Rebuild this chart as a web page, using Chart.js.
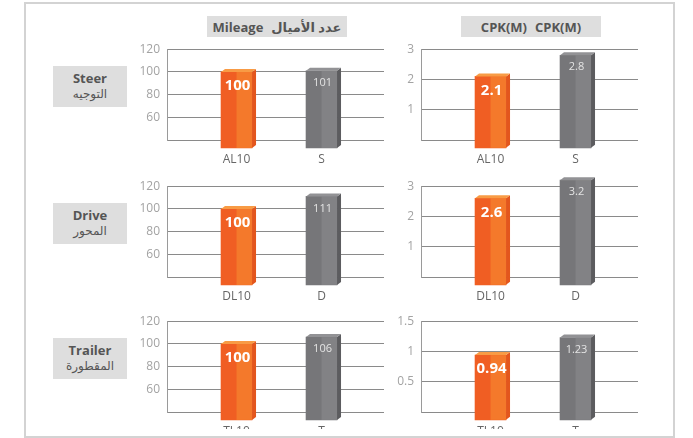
<!DOCTYPE html>
<html>
<head>
<meta charset="utf-8">
<script src="https://cdn.jsdelivr.net/npm/chart.js@4/dist/chart.umd.min.js"></script>
<style>
  html,body{margin:0;padding:0;background:#fff;width:693px;height:438px;overflow:hidden;}
  #frame{position:absolute;left:24px;top:2px;width:647px;height:432px;border:2px solid #d3d3d3;}
  #clip{position:absolute;left:0;top:0;width:693px;height:429px;overflow:hidden;}
  canvas{position:absolute;}
  .hdr{position:absolute;top:16px;height:21px;background:#dedede;color:#555;font:bold 13px "Open Sans","DejaVu Sans",sans-serif;display:flex;align-items:center;justify-content:center;gap:8px;}
  .row{position:absolute;left:53px;width:74px;height:41px;background:#dedede;color:#555;text-align:center;font-family:"Open Sans","DejaVu Sans",sans-serif;}
  .row .en{font-weight:bold;font-size:13px;line-height:16px;margin-top:4px;}
  .row .ar{font-size:12px;line-height:16px;}
</style>
</head>
<body>
<div id="frame"></div>
<div class="hdr" style="left:207px;width:140px;"><span>Mileage</span><span dir="rtl">عدد الأميال</span></div>
<div class="hdr" style="left:461px;width:140px;"><span>CPK(M)</span><span>CPK(M)</span></div>
<div class="row" style="top:66px;"><div class="en">Steer</div><div class="ar" dir="rtl">التوجيه</div></div>
<div class="row" style="top:203px;"><div class="en">Drive</div><div class="ar" dir="rtl">المحور</div></div>
<div class="row" style="top:338px;"><div class="en">Trailer</div><div class="ar" dir="rtl">المقطورة</div></div>
<div id="clip"></div>
<script>
// ---- data ----
const steerCats = ['AL10', 'S'];
const driveCats = ['DL10', 'D'];
const trailerCats = ['TL10', 'T'];
const steerMileage = [100, 101];
const driveMileage = [100, 111];
const trailerMileage = [100, 106];
const steerCPK = [2.1, 2.8];
const driveCPK = [2.6, 3.2];
const trailerCPK = [0.94, 1.23];
const mileageTicks = {min: 40, max: 120, step: 20};
const cpkTicks = {min: 0, max: 3, step: 1};
const trailerCpkTicks = {min: 0, max: 1.5, step: 0.5};

// ---- style ----
const FONT = '"Open Sans","DejaVu Sans",sans-serif';
const pal = [
  {front:'#f05e23', light:'#f4792b', side:'#e3561d', top:'#f89b45', label:'#ffffff', bold:true},
  {front:'#767679', light:'#828285', side:'#5c5c5f', top:'#929295', label:'#e4e4e4', bold:false}
];

const bar3d = {
  id:'bar3d',
  afterDatasetsDraw(chart){
    const ctx = chart.ctx;
    const meta = chart.getDatasetMeta(0);
    const dx = 4, dy = 3;
    ctx.save();
    meta.data.forEach((el, i) => {
      const p = el.getProps(['x','y','base','width'], true);
      const c = pal[i];
      const l = p.x - p.width/2, r = p.x + p.width/2;
      ctx.fillStyle = c.light;
      ctx.fillRect(p.x, p.y, r - p.x, p.base - p.y);
      ctx.fillStyle = c.side;
      ctx.beginPath();
      ctx.moveTo(r, p.y); ctx.lineTo(r+dx, p.y-dy); ctx.lineTo(r+dx, p.base-dy); ctx.lineTo(r, p.base);
      ctx.closePath(); ctx.fill();
      ctx.fillStyle = c.top;
      ctx.beginPath();
      ctx.moveTo(l, p.y); ctx.lineTo(l+dx, p.y-dy); ctx.lineTo(r+dx, p.y-dy); ctx.lineTo(r, p.y);
      ctx.closePath(); ctx.fill();
      const v = chart.data.datasets[0].data[i].y;
      ctx.fillStyle = c.label;
      ctx.textAlign = 'center';
      ctx.textBaseline = 'middle';
      ctx.font = c.bold ? 'bold 15px ' + FONT : '11px ' + FONT;
      ctx.fillText(String(v), p.x + 1, p.y + (c.bold ? 14 : 12));
    });
    ctx.restore();
  }
};

function makeChart(left, width, yWidth, padRight, rowTop, rowBottom, cats, vals, t, base){
  const cv = document.createElement('canvas');
  const padTop = 12, xH = 30;
  const h = rowBottom - rowTop + padTop + xH;
  cv.width = width; cv.height = h;
  cv.style.left = left + 'px';
  cv.style.top = (rowTop - padTop) + 'px';
  cv.style.width = width + 'px'; cv.style.height = h + 'px';
  document.getElementById('clip').appendChild(cv);
  new Chart(cv, {
    type:'bar',
    data:{ datasets:[{
      data: vals.map((v,i)=>({x:i, y:v})),
      backgroundColor: pal.map(p=>p.front),
      borderWidth: 0,
      barThickness: 31,
      base: base,
      clip: false
    }]},
    options:{
      responsive:false, animation:false, devicePixelRatio:1,
      layout:{padding:{top:padTop, right:padRight, left:0, bottom:0}},
      plugins:{legend:{display:false}, tooltip:{enabled:false}},
      scales:{
        x:{
          type:'linear', min:-0.818, max:1.735, offset:false,
          grid:{display:false, drawTicks:false}, border:{display:false},
          afterBuildTicks:(ax)=>{ ax.ticks = cats.map((c,i)=>({value:i})); },
          afterFit:(s)=>{ s.height = xH; },
          ticks:{ autoSkip:false, maxRotation:0, padding:12, color:'#666',
            font:{family:FONT, size:12},
            callback:(v)=>cats[v] }
        },
        y:{
          min:t.min, max:t.max,
          afterFit:(s)=>{ s.width = yWidth; },
          grid:{color:'#8a8a8a', lineWidth:1, drawTicks:false},
          border:{display:true, color:'#9a9a9a', width:1},
          ticks:{ stepSize:t.step, padding:7, color:'#a3a3a3',
            font:{family:FONT, size:12},
            callback:(v)=> v === t.min ? '' : String(v) }
        }
      }
    },
    plugins:[bar3d]
  });
}

const rowsTop = [47, 184, 319];
const rowsBottom = [140, 277, 412];
makeChart(120, 270, 47, 6, rowsTop[0], rowsBottom[0], steerCats, steerMileage, mileageTicks, 33);
makeChart(120, 270, 47, 6, rowsTop[1], rowsBottom[1], driveCats, driveMileage, mileageTicks, 33);
makeChart(120, 270, 47, 6, rowsTop[2], rowsBottom[2], trailerCats, trailerMileage, mileageTicks, 33);
makeChart(380, 265, 41, 7, rowsTop[0], rowsBottom[0], steerCats, steerCPK, cpkTicks, -0.26);
makeChart(380, 265, 41, 7, rowsTop[1], rowsBottom[1], driveCats, driveCPK, cpkTicks, -0.26);
makeChart(380, 265, 41, 7, rowsTop[2], rowsBottom[2], trailerCats, trailerCPK, trailerCpkTicks, -0.13);
</script>
</body>
</html>
